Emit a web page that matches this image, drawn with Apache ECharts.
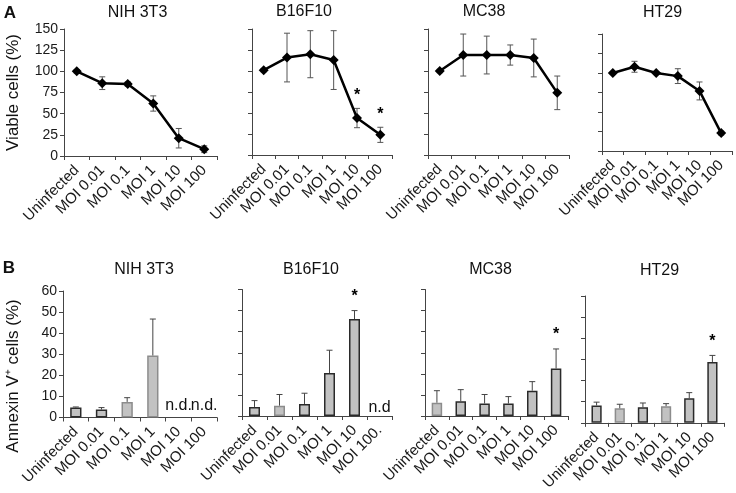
<!DOCTYPE html>
<html>
<head>
<meta charset="utf-8">
<script src="https://cdn.jsdelivr.net/npm/echarts@6/dist/echarts.min.js"></script>
<style>html,body{margin:0;padding:0;background:#fff;}#c{width:736px;height:493px;}</style>
</head>
<body>
<div id="c"></div>
<script>
// ---------- DATA ----------
const categories = ['Uninfected', 'MOI 0.01', 'MOI 0.1', 'MOI 1', 'MOI 10', 'MOI 100'];
const categoriesAnnexinB16 = ['Uninfected', 'MOI 0.01', 'MOI 0.1', 'MOI 1', 'MOI 10', 'MOI 100.'];
const panelTitles = ['NIH 3T3', 'B16F10', 'MC38', 'HT29'];
const viabilityTicks = [0, 25, 50, 75, 100, 125, 150];
const annexinTicks = [0, 10, 20, 30, 40, 50, 60];

// Viable cells (%) – mean and error
const viaNIH = [100, 86, 85, 62, 21, 8];
const viaNIHErr = [2, 7.5, 2.5, 9, 11.5, 4];
const viaB16 = [101, 116, 120, 113, 44, 24];
const viaB16Err = [2, 29, 28, 35, 11.5, 9];
const viaMC38 = [100, 119, 119, 119, 115.5, 74];
const viaMC38Err = [2, 25, 22.5, 12, 22.5, 20];
const viaHT29 = [100, 108, 100, 96, 77, 23];
const viaHT29Err = [2, 7, 2, 9.5, 11.5, 2.5];
const viaSigNIH = [], viaSigB16 = [4, 5], viaSigMC38 = [], viaSigHT29 = [];

// Annexin V+ cells (%) – mean and error (null = n.d.)
const annNIH = [4.7, 3.8, 7.4, 29.4, null, null];
const annNIHErr = [0.3, 0.9, 2, 17.3, null, null];
const annB16 = [4.3, 4.9, 5.7, 20.4, 46, null];
const annB16Err = [3, 5.3, 5.1, 10.8, 4, null];
const annMC38 = [6.3, 7, 5.9, 5.9, 12, 22.5];
const annMC38Err = [5.7, 5.5, 4.3, 3.3, 4.3, 9.3];
const annHT29 = [8.2, 6.9, 7.4, 7.9, 11.6, 28.8];
const annHT29Err = [1.6, 1.9, 2, 1.2, 2.7, 3.1];
const annSigNIH = [], annSigB16 = [4], annSigMC38 = [5], annSigHT29 = [5];
const ndTextNIH = 'n.d.', ndTextB16 = 'n.d';

// ---------- STYLE / LAYOUT ----------
const FONT = 'Liberation Sans, Arial, sans-serif';
const darkBorder = [[1,1,0,0,1,1],[1,0,1,1,1,1],[0,1,1,1,1,1],[1,0,1,0,1,1]];
const ndGap = [4, 0, 0, 0];
const topGrids = [
  {left: 64, top: 29, width: 153, height: 127},
  {left: 252, top: 29, width: 140, height: 126},
  {left: 428, top: 29, width: 141, height: 126},
  {left: 602, top: 34, width: 130, height: 117}
];
const botGrids = [
  {left: 63, top: 291, width: 154, height: 126.5},
  {left: 242, top: 289.5, width: 150, height: 126.5},
  {left: 425, top: 289.5, width: 143, height: 126.5},
  {left: 585, top: 296, width: 139, height: 127}
];
const topTitlePos = [[137.5, 12.5], [304, 12], [484, 12], [662.5, 12.5]];
const botTitlePos = [[144, 270], [311, 270], [490.5, 270], [659.5, 270.5]];

const via = [viaNIH, viaB16, viaMC38, viaHT29];
const viaErr = [viaNIHErr, viaB16Err, viaMC38Err, viaHT29Err];
const viaSig = [viaSigNIH, viaSigB16, viaSigMC38, viaSigHT29];
const ann = [annNIH, annB16, annMC38, annHT29];
const annErr = [annNIHErr, annB16Err, annMC38Err, annHT29Err];
const annSig = [annSigNIH, annSigB16, annSigMC38, annSigHT29];
const ndText = [ndTextNIH, ndTextB16, '', ''];

function errRender(oneSided, capHalf, color, sigGap) {
  return function (params, api) {
    const i = api.value(0), v = api.value(1), e = api.value(2), sig = api.value(3);
    const lo = oneSided ? v : v - e, hi = v + e;
    const pHi = api.coord([i, hi]), pLo = api.coord([i, lo]);
    const st = {stroke: color, lineWidth: 1};
    const ch = [
      {type: 'line', shape: {x1: pHi[0], y1: pHi[1], x2: pLo[0], y2: pLo[1]}, style: st},
      {type: 'line', shape: {x1: pHi[0] - capHalf, y1: pHi[1], x2: pHi[0] + capHalf, y2: pHi[1]}, style: st}
    ];
    if (!oneSided) ch.push({type: 'line', shape: {x1: pLo[0] - capHalf, y1: pLo[1], x2: pLo[0] + capHalf, y2: pLo[1]}, style: st});
    if (sig) ch.push({type: 'text', x: pHi[0], y: pHi[1] - sigGap, style: {text: '*', fontSize: 16, fontWeight: 'bold', fontFamily: FONT, fill: '#000', align: 'center', verticalAlign: 'middle'}});
    return {type: 'group', children: ch};
  };
}

function ndRender(text, gap) {
  return function (params, api) {
    const p = api.coord([api.value(0), 0]);
    return {type: 'text', x: p[0], y: p[1] - gap, style: {text: text, fontSize: 16, fontFamily: FONT, fill: '#111', align: 'center', verticalAlign: 'bottom'}};
  };
}

const grids = [], xAxes = [], yAxes = [], series = [], graphics = [];

function makeAxes(k, g, ticks, showY, cats) {
  grids.push(Object.assign({containLabel: false}, g));
  xAxes.push({
    type: 'category', gridIndex: k, data: cats, boundaryGap: true,
    axisLine: {lineStyle: {color: '#444', width: 1}},
    axisTick: {show: true, length: 4, inside: false, lineStyle: {color: '#444'}},
    axisLabel: {interval: 0, rotate: 45, fontSize: 15, fontFamily: FONT, color: '#1a1a1a', margin: 12}
  });
  yAxes.push({
    type: 'value', gridIndex: k, min: ticks[0], max: ticks[ticks.length - 1], interval: ticks[1] - ticks[0],
    splitLine: {show: false},
    axisLine: {show: true, lineStyle: {color: '#444', width: 1}},
    axisTick: {show: true, length: 4, lineStyle: {color: '#444'}},
    axisLabel: {show: showY, fontSize: 14, fontFamily: FONT, color: '#1a1a1a', margin: 6}
  });
}

for (let k = 0; k < 4; k++) {
  makeAxes(k, topGrids[k], viabilityTicks, k === 0, categories);
  const ed = via[k].map((v, i) => [i, v, viaErr[k][i], viaSig[k].includes(i) ? 1 : 0]);
  series.push({type: 'custom', xAxisIndex: k, yAxisIndex: k, z: 1, silent: true,
    renderItem: errRender(false, 3, '#555', 13), data: ed, encode: {x: 0, y: 1}});
  series.push({type: 'line', xAxisIndex: k, yAxisIndex: k, z: 3, data: via[k],
    symbol: 'diamond', symbolSize: 10, lineStyle: {color: '#000', width: 2.5},
    itemStyle: {color: '#000'}, animation: false});
}
for (let k = 0; k < 4; k++) {
  const ai = k + 4;
  makeAxes(ai, botGrids[k], annexinTicks, k === 0, k === 1 ? categoriesAnnexinB16 : categories);
  const bd = ann[k].map((v, i) => v == null ? '-' : {value: v, itemStyle: {
    color: '#c2c2c2', borderColor: darkBorder[k][i] ? '#2a2a2a' : '#8c8c8c', borderWidth: 1.5}});
  series.push({type: 'bar', xAxisIndex: ai, yAxisIndex: ai, z: 2, data: bd, barWidth: '44%', animation: false});
  const ed = [];
  ann[k].forEach((v, i) => { if (v != null) ed.push([i, v, annErr[k][i], annSig[k].includes(i) ? 1 : 0]); });
  series.push({type: 'custom', xAxisIndex: ai, yAxisIndex: ai, z: 3, silent: true,
    renderItem: errRender(true, 3, '#444', 14), data: ed, encode: {x: 0, y: 1}});
  const nd = [];
  ann[k].forEach((v, i) => { if (v == null) nd.push([i, 0]); });
  if (nd.length) series.push({type: 'custom', xAxisIndex: ai, yAxisIndex: ai, z: 4, silent: true,
    renderItem: ndRender(ndText[k], ndGap[k]), data: nd, encode: {x: 0, y: 1}});
}

function txt(x, y, text, size, bold, rot) {
  graphics.push({type: 'text', x: x, y: y, rotation: rot || 0, style: {text: text, fontSize: size,
    fontWeight: bold ? 'bold' : 'normal', fontFamily: FONT, fill: '#111', align: 'center', verticalAlign: 'middle'}});
}
panelTitles.forEach((t, k) => {
  txt(topTitlePos[k][0], topTitlePos[k][1], t, 16, false);
  txt(botTitlePos[k][0], botTitlePos[k][1], t, 16, false);
});
txt(10, 13, 'A', 17, true);
txt(9, 268.5, 'B', 17, true);
txt(13, 92.5, 'Viable cells (%)', 17, false, Math.PI / 2);
txt(13, 376, 'Annexin V\u207A cells (%)', 17, false, Math.PI / 2);

const chart = echarts.init(document.getElementById('c'), null, {renderer: 'canvas'});
chart.setOption({
  animation: false,
  backgroundColor: '#fff',
  grid: grids, xAxis: xAxes, yAxis: yAxes, series: series,
  graphic: graphics
});
</script>
</body>
</html>
